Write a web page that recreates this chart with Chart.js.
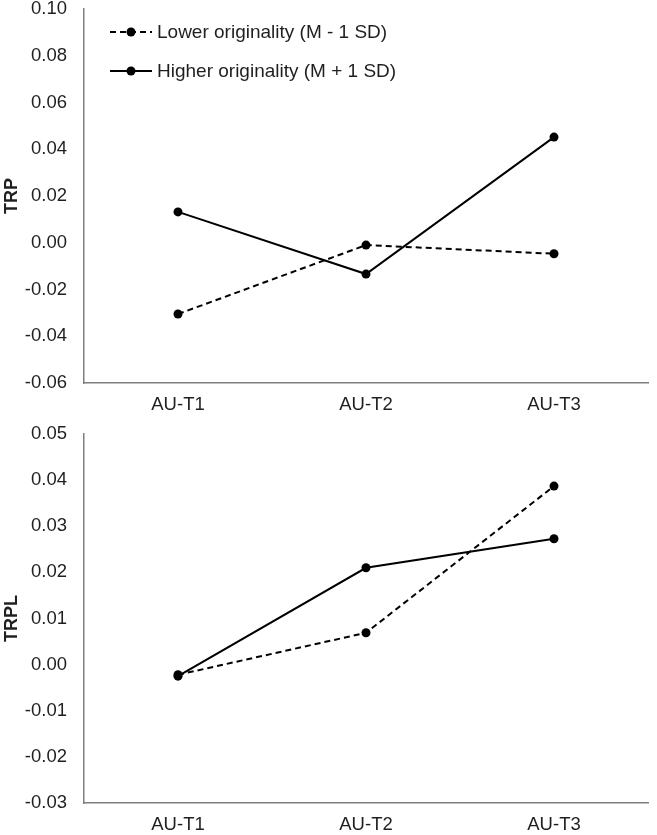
<!DOCTYPE html>
<html>
<head>
<meta charset="utf-8">
<script src="https://cdn.jsdelivr.net/npm/chart.js@4"></script>
<style>
  html, body { margin: 0; padding: 0; background: #fff; }
  #wrap { position: relative; width: 657px; height: 835px; }
  #c1 { position: absolute; left: 0; top: 0; }
  #c2 { position: absolute; left: 0; top: 417px; }
</style>
</head>
<body>
<div id="wrap">
  <canvas id="c1" width="657" height="417"></canvas>
  <canvas id="c2" width="657" height="418"></canvas>
</div>
<script>
const categories = ["AU-T1", "AU-T2", "AU-T3"];
const seriesNames = ["Lower originality (M - 1 SD)", "Higher originality (M + 1 SD)"];
const trpLower = [-0.0305, -0.0010, -0.0047];
const trpHigher = [0.0132, -0.0134, 0.0452];
const trplLower = [-0.0022, 0.0069, 0.0387];
const trplHigher = [-0.0025, 0.0210, 0.0273];
const trpAxis = { title: "TRP", min: -0.06, max: 0.10, step: 0.02 };
const trplAxis = { title: "TRPL", min: -0.03, max: 0.05, step: 0.01 };

const FONT = "'Liberation Sans', Arial, sans-serif";
const TEXT = '#1f1f1f';
const AXIS = '#7f7f7f';

function datasetsFor(lower, higher) {
  return [
    { label: seriesNames[0], data: lower, borderColor: '#000', backgroundColor: '#000',
      borderWidth: 2, borderDash: [6, 4], pointRadius: 4.5, pointHoverRadius: 4.5,
      pointBackgroundColor: '#000', pointBorderWidth: 0, tension: 0 },
    { label: seriesNames[1], data: higher, borderColor: '#000', backgroundColor: '#000',
      borderWidth: 2, pointRadius: 4.5, pointHoverRadius: 4.5,
      pointBackgroundColor: '#000', pointBorderWidth: 0, tension: 0 }
  ];
}

const legendPlugin = {
  id: 'customLegend',
  afterDraw(chart, args, opts) {
    if (!opts || !opts.show) return;
    const ctx = chart.ctx;
    const rows = [32, 71];
    chart.data.datasets.forEach((ds, i) => {
      const y = rows[i];
      ctx.save();
      ctx.strokeStyle = ds.borderColor;
      ctx.lineWidth = ds.borderWidth;
      ctx.setLineDash(ds.borderDash || []);
      ctx.beginPath();
      ctx.moveTo(110, y);
      ctx.lineTo(152, y);
      ctx.stroke();
      ctx.setLineDash([]);
      ctx.fillStyle = ds.pointBackgroundColor;
      ctx.beginPath();
      ctx.arc(131, y, 4.5, 0, Math.PI * 2);
      ctx.fill();
      ctx.fillStyle = TEXT;
      ctx.font = "19px " + FONT;
      ctx.textBaseline = 'middle';
      ctx.textAlign = 'left';
      ctx.fillText(ds.label, 157, y + 1);
      ctx.restore();
    });
  }
};

function makeChart(id, axis, lower, higher, topPad, xHeight, showLegend) {
  return new Chart(document.getElementById(id), {
    type: 'line',
    data: { labels: categories, datasets: datasetsFor(lower, higher) },
    plugins: [legendPlugin],
    options: {
      responsive: false,
      animation: false,
      events: [],
      layout: { padding: { top: topPad, right: 9, left: 0, bottom: 0 } },
      plugins: {
        legend: { display: false },
        tooltip: { enabled: false },
        customLegend: { show: showLegend }
      },
      scales: {
        x: {
          offset: true,
          grid: { display: false, drawTicks: false },
          border: { display: true, color: AXIS, width: 1.5 },
          ticks: { color: TEXT, font: { family: FONT, size: 18.5 }, padding: 11, maxRotation: 0 },
          afterFit(s) { s.height = xHeight; s.paddingLeft = 0; s.paddingRight = 0; }
        },
        y: {
          min: axis.min, max: axis.max,
          grid: { display: false, drawTicks: false },
          border: { display: true, color: AXIS, width: 1.5 },
          ticks: {
            stepSize: axis.step, color: TEXT, font: { family: FONT, size: 18.5 }, padding: 17,
            callback: v => (Math.abs(v) < 1e-9 ? 0 : v).toFixed(2)
          },
          title: { display: true, text: axis.title, color: TEXT,
                   font: { family: FONT, size: 18, weight: 'bold' }, padding: { top: 1, bottom: 0 } },
          afterFit(s) { s.width = 84; s.paddingTop = 0; s.paddingBottom = 0; }
        }
      }
    }
  });
}

makeChart('c1', trpAxis, trpLower, trpHigher, 9, 34, true);
makeChart('c2', trplAxis, trplLower, trplHigher, 17, 32, false);
</script>
</body>
</html>
